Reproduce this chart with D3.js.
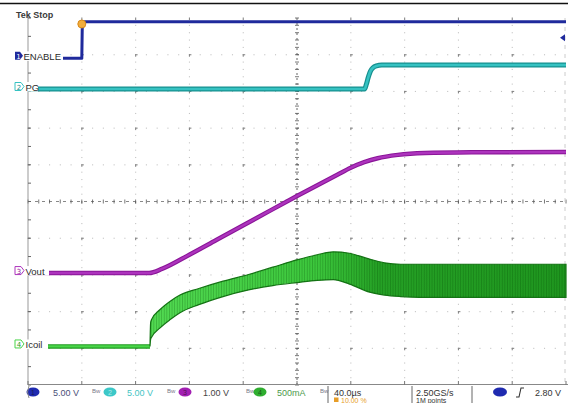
<!DOCTYPE html>
<html>
<head>
    <meta charset="utf-8">
    <script src="https://d3js.org/d3.v7.min.js"></script>
</head>

<style>
body { margin: 0; background: #fff; }
svg { display: block; font-family: "DejaVu Sans", sans-serif; }
</style>

<body>
<div id="scope"></div>

<script>
// Time base in µs, relative to the trigger (40 µs/div, trigger at 10%)
var timeDomain = [-40, 360];

// CH1 ENABLE (V)
var enableT = [-40, 0, 0.4, 360];
var enableV = [0, 0, 5.0, 5.0];

// CH2 PG (V)
var pgT = [-40, 210.3, 211.5, 213, 214.5, 216.5, 219, 223, 360];
var pgV = [0, 0, 0.6, 1.6, 2.4, 2.9, 3.15, 3.27, 3.27];

// CH3 Vout (V)
var voutT = [-40, 50, 60, 80, 100, 130, 160, 190, 200, 210, 220, 235, 255, 290, 360];
var voutV = [0, 0, 0.12, 0.5, 0.9, 1.5, 2.1, 2.68, 2.87, 3.02, 3.13, 3.22, 3.27, 3.29, 3.3];

// CH4 Icoil (A): idle level, then ripple envelope while switching
var icoilIdleT = [-40, 50.7];
var icoilIdle = [0, 0];
var icoilT  = [50.7, 51.2, 52, 58, 66, 73, 87, 105, 124, 142, 160, 175, 187, 199, 214, 225, 237, 251, 360];
var icoilHi = [0.02, 0.33, 0.37, 0.5, 0.62, 0.7, 0.79, 0.89, 0.98, 1.08, 1.18, 1.25, 1.29, 1.27, 1.19, 1.14, 1.12, 1.12, 1.12];
var icoilLo = [0, 0.1, 0.13, 0.25, 0.37, 0.46, 0.57, 0.68, 0.77, 0.83, 0.87, 0.9, 0.91, 0.85, 0.74, 0.7, 0.68, 0.67, 0.67];

// Readout texts
var chanNames = ["ENABLE", "PG", "Vout", "Icoil"];
var chanScales = ["5.00 V", "5.00 V", "1.00 V", "500mA"];
var timeScale = "40.0\u00b5s";
var trigPos = "10.00 %";
var sampleRate = "2.50GS/s";
var recLength = "1M points";
var trigLevel = "2.80 V";

// channel settings (offset in divisions, units per division, colours)
var chans = [
    {id: 1, perDiv: 5,   offset: 3.9,   color: "#1f2a9c", edge: "#1f2a9c", text: "#4a5078"},
    {id: 2, perDiv: 5,   offset: 3.065, color: "#36c2c2", edge: "#16908f", text: "#45c4c4"},
    {id: 3, perDiv: 1,   offset: -1.95, color: "#ad34bd", edge: "#8a1598", text: "#444"},
    {id: 4, perDiv: 0.5, offset: -3.95, color: "#49d549", edge: "#1f9a1f", text: "#4c9a4c"}
];

var W = 568, H = 403;
var plot = {left: 28, right: 566, top: 18, bottom: 385};

var svg = d3.select("#scope").append("svg")
    .attr("width", W).attr("height", H);

var x = d3.scaleLinear().domain(timeDomain).range([plot.left, plot.right]);
var yDiv = d3.scaleLinear().domain([-5, 5]).range([plot.bottom, plot.top]);
var divX = (plot.right - plot.left) / 10, divY = (plot.bottom - plot.top) / 10;

function chY(c, v) { return yDiv(c.offset + v / c.perDiv); }
function zip(t, v) { return t.map((d, i) => [d, v[i]]); }

// top frame line
svg.append("line").attr("x1", 0).attr("x2", W).attr("y1", 3.5).attr("y2", 3.5)
    .attr("stroke", "#111").attr("stroke-width", 1.5);

// GRATICULE
var grid = svg.append("g");
d3.range(1, 10).forEach(function(i) {
    if (i === 5) return;
    var gx = plot.left + i * divX;
    d3.range(0, 50).forEach(function(k) {
        grid.append("rect").attr("x", gx - 0.5).attr("y", plot.top + k * divY / 5 - 0.5)
            .attr("width", 1.1).attr("height", k % 5 === 0 ? 2.5 : 1.1).attr("fill", k % 5 === 0 ? "#888" : "#c4c4c4");
    });
    var gy = yDiv(i - 5);
    d3.range(0, 50).forEach(function(k) {
        grid.append("rect").attr("x", plot.left + k * divX / 5 - 0.5).attr("y", gy - 0.5)
            .attr("width", k % 5 === 0 ? 2.5 : 1.1).attr("height", 1.1).attr("fill", k % 5 === 0 ? "#888" : "#c4c4c4");
    });
});
// centre cross with minor ticks
var cx = plot.left + 5 * divX, cy = yDiv(0);
grid.append("line").attr("x1", cx).attr("x2", cx).attr("y1", plot.top).attr("y2", plot.bottom)
    .attr("stroke", "#666").attr("stroke-dasharray", "2,3");
grid.append("line").attr("y1", cy).attr("y2", cy).attr("x1", plot.left).attr("x2", plot.right)
    .attr("stroke", "#888").attr("stroke-dasharray", "3,4");
d3.range(0, 51).forEach(function(k) {
    grid.append("line").attr("x1", cx - 2).attr("x2", cx + 2)
        .attr("y1", plot.top + k * divY / 5).attr("y2", plot.top + k * divY / 5)
        .attr("stroke", "#555").attr("stroke-width", 0.8);
    grid.append("line").attr("y1", cy - 2).attr("y2", cy + 2)
        .attr("x1", plot.left + k * divX / 5).attr("x2", plot.left + k * divX / 5)
        .attr("stroke", "#555").attr("stroke-width", 0.8);
});
// left border and bottom line
grid.append("line").attr("x1", plot.left).attr("x2", plot.left).attr("y1", plot.top - 3).attr("y2", plot.bottom)
    .attr("stroke", "#999");
d3.range(0, 21).forEach(function(k) {
    grid.append("line").attr("x1", plot.left).attr("x2", plot.left + 3)
        .attr("y1", plot.top + k * divY / 2).attr("y2", plot.top + k * divY / 2).attr("stroke", "#666");
});
grid.append("line").attr("x1", plot.right - 1).attr("x2", plot.right - 1).attr("y1", plot.top).attr("y2", plot.bottom)
    .attr("stroke", "#ccc").attr("stroke-dasharray", "4,5");
grid.append("line").attr("x1", plot.left).attr("x2", W).attr("y1", plot.bottom - 0.5).attr("y2", plot.bottom - 0.5)
    .attr("stroke", "#888").attr("stroke-width", 1.2);
d3.range(0, 11).forEach(function(i) {
    grid.append("line").attr("x1", plot.left + i * divX).attr("x2", plot.left + i * divX)
        .attr("y1", plot.bottom - 4).attr("y2", plot.bottom).attr("stroke", "#777");
});

// TRACES
var defs = svg.append("defs");
var grad = defs.append("linearGradient").attr("id", "icoilGrad")
    .attr("gradientUnits", "userSpaceOnUse").attr("x1", 150).attr("x2", 566).attr("y1", 0).attr("y2", 0);
grad.append("stop").attr("offset", "0%").attr("stop-color", "#52da52");
grad.append("stop").attr("offset", "40%").attr("stop-color", "#3cc63c");
grad.append("stop").attr("offset", "55%").attr("stop-color", "#25a025");
grad.append("stop").attr("offset", "100%").attr("stop-color", "#1f961f");
var pat = defs.append("pattern").attr("id", "ripple").attr("patternUnits", "userSpaceOnUse")
    .attr("width", 2.6).attr("height", 8);
pat.append("rect").attr("x", 0).attr("y", 0).attr("width", 0.8).attr("height", 8).attr("fill", "rgba(0,70,0,0.28)");

function trace(c, pts, wEdge, wCore, curve) {
    var line = d3.line().x(d => x(d[0])).y(d => chY(c, d[1])).curve(curve || d3.curveLinear);
    svg.append("path").datum(pts).attr("d", line).attr("fill", "none")
        .attr("stroke", c.edge).attr("stroke-width", wEdge).attr("stroke-linejoin", "round");
    if (wCore) svg.append("path").datum(pts).attr("d", line).attr("fill", "none")
        .attr("stroke", c.color).attr("stroke-width", wCore).attr("stroke-linejoin", "round");
}

// CH4 ripple band
var band = icoilT.map((t, i) => ({t: t, hi: icoilHi[i], lo: icoilLo[i]}));
var area = d3.area().x(d => x(d.t)).y0(d => chY(chans[3], d.lo)).y1(d => chY(chans[3], d.hi))
    .curve(d3.curveMonotoneX);
trace(chans[3], zip(icoilIdleT, icoilIdle), 4.5, 2.2);
svg.append("path").datum(band).attr("d", area).attr("fill", "url(#icoilGrad)")
    .attr("stroke", "#157515").attr("stroke-width", 1.2);
svg.append("path").datum(band).attr("d", area).attr("fill", "url(#ripple)");

trace(chans[2], zip(voutT, voutV), 4.5, 2.4, d3.curveMonotoneX);
trace(chans[1], zip(pgT, pgV), 5, 2.6, d3.curveMonotoneX);
trace(chans[0], zip(enableT, enableV), 3);

// trigger position marker and level arrow
svg.append("circle").attr("cx", x(0)).attr("cy", 24).attr("r", 4)
    .attr("fill", "#f2ad3c").attr("stroke", "#d88a1a");
svg.append("path").attr("d", "M560," + chY(chans[0], 2.8) + "l5,-3.5v7z").attr("fill", "#1f2a9c");

// CHANNEL LABELS
var labelW = [39, 14, 25, 24];
chans.forEach(function(c, i) {
    var gy = chY(c, 0);
    var g = svg.append("g");
    g.append("rect").attr("x", 12).attr("y", gy - 7).attr("width", labelW[i] + 12).attr("height", 9.5).attr("fill", "#fff");
    if (c.id === 1) {
        g.append("path").attr("d", "M15," + (gy - 6.5) + "h5l3,4l-3,4h-5z").attr("fill", c.color);
        g.append("text").attr("x", 18.5).attr("y", gy + 0.5).attr("font-size", 7).attr("fill", "#fff")
            .attr("text-anchor", "middle").text(c.id);
    } else {
        g.append("path").attr("d", "M15," + (gy - 6.5) + "h6l3,4l-3,4h-6z")
            .attr("fill", "#fff").attr("stroke", c.color).attr("stroke-width", 1);
        g.append("text").attr("x", 19).attr("y", gy + 0.5).attr("font-size", 7).attr("fill", c.edge)
            .attr("text-anchor", "middle").text(c.id);
    }
    g.append("text").attr("x", c.id === 1 ? 23.5 : 25.5).attr("y", gy + 1.5).attr("font-size", 9.5)
        .attr("font-family", "Liberation Sans Narrow, Liberation Sans, sans-serif")
        .attr("fill", "#2a2a2a").text(chanNames[i]);
});

svg.append("text").attr("x", 16).attr("y", 18).attr("font-size", 9).attr("font-weight", "bold")
    .attr("fill", "#3a3a3a").attr("font-family", "Liberation Sans Narrow, Liberation Sans, sans-serif").text("Tek Stop");

// STATUS BAR
var sb = svg.append("g").attr("font-size", 9).attr("font-family", "Liberation Sans, sans-serif");
var pillX = [33, 110, 185, 260], valX = [53, 127, 203, 277], bwX = [92, 167, 246, 320];
chans.forEach(function(c, i) {
    sb.append("ellipse").attr("cx", pillX[i]).attr("cy", 392).attr("rx", 6.5).attr("ry", 4.5).attr("fill", c.id === 3 ? "#a21fb2" : c.id === 4 ? "#2fae2f" : c.id === 2 ? "#3cc8c8" : "#1f2ab0");
    sb.append("text").attr("x", pillX[i]).attr("y", 395).attr("font-size", 7).attr("text-anchor", "middle")
        .attr("fill", c.id === 2 ? "#fff" : "#111").attr("fill-opacity", 0.6).text(c.id);
    sb.append("text").attr("x", valX[i]).attr("y", 395.5).attr("fill", c.text).text(chanScales[i]);
    sb.append("text").attr("x", bwX[i]).attr("y", 393).attr("font-size", 6).attr("fill", "#778").text("Bw");
});
sb.append("path").attr("d", "M29,386q-3,6,0,12").attr("fill", "none").attr("stroke", "#888");
[328, 412, 472].forEach(function(dx) {
    sb.append("line").attr("x1", dx).attr("x2", dx).attr("y1", 386).attr("y2", H).attr("stroke", "#666");
});
sb.append("text").attr("x", 334).attr("y", 395.5).attr("fill", "#333").text(timeScale);
sb.append("text").attr("x", 341).attr("y", 402.5).attr("font-size", 7).attr("fill", "#e79d28").text(trigPos);
sb.append("rect").attr("x", 334).attr("y", 397.5).attr("width", 4.5).attr("height", 4.5).attr("fill", "#e79d28");
sb.append("text").attr("x", 416).attr("y", 395.5).attr("fill", "#333").text(sampleRate);
sb.append("text").attr("x", 416).attr("y", 402.5).attr("font-size", 7).attr("fill", "#333").text(recLength);
sb.append("ellipse").attr("cx", 500).attr("cy", 392).attr("rx", 7).attr("ry", 4.5).attr("fill", "#1f2ab0");
sb.append("path").attr("d", "M516,397h3l2,-9h3").attr("fill", "none").attr("stroke", "#333").attr("stroke-width", 1.1);
sb.append("text").attr("x", 535).attr("y", 395.5).attr("fill", "#333").text(trigLevel);
</script>
</body>
</html>
